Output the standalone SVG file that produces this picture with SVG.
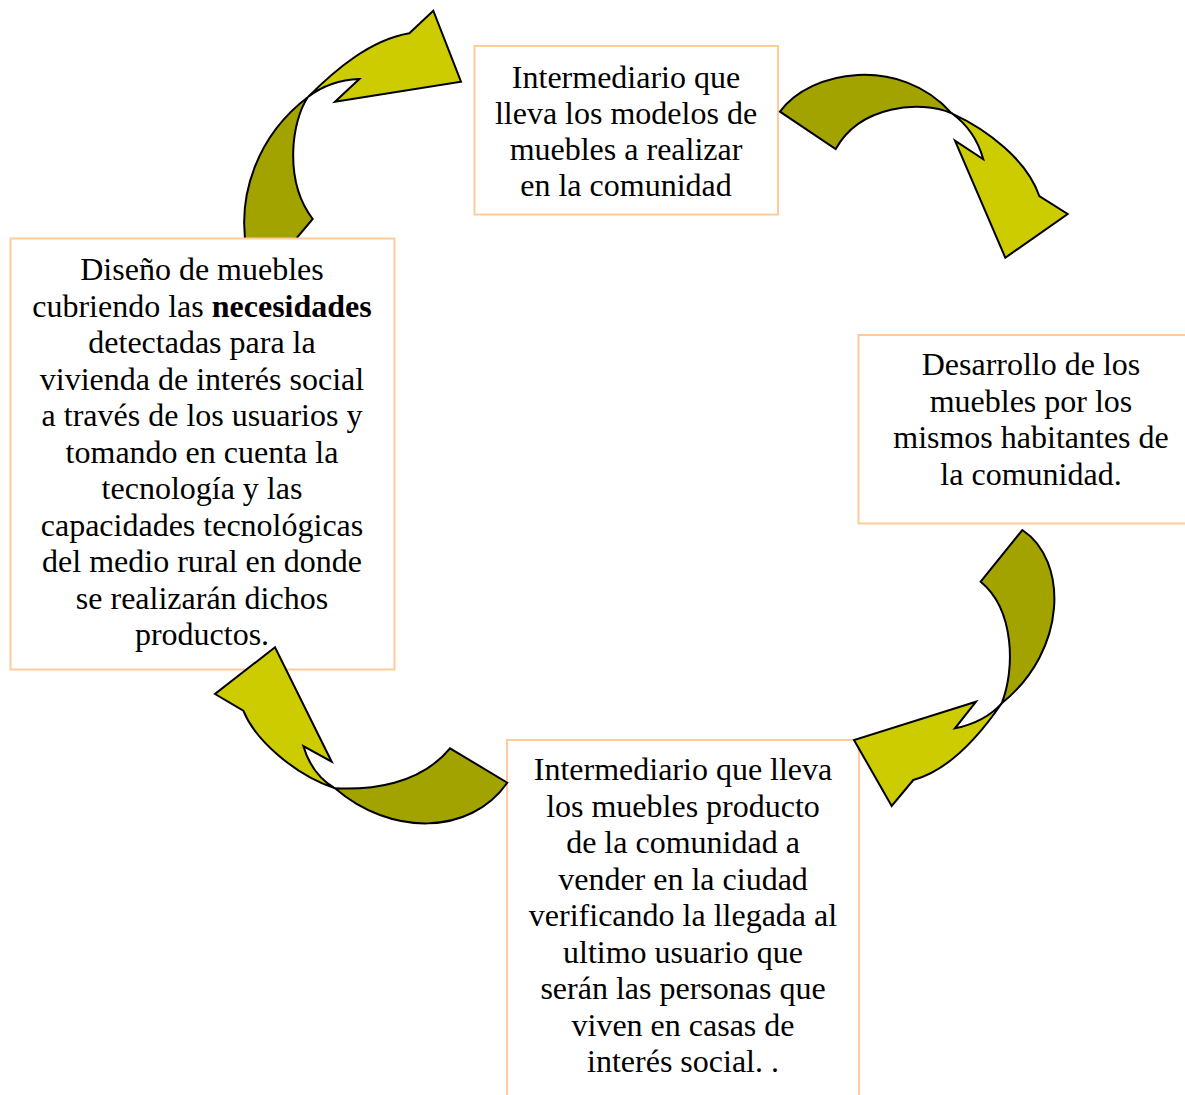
<svg xmlns="http://www.w3.org/2000/svg" width="1185" height="1095" viewBox="0 0 1185 1095">
<style>
.box{fill:#ffffff;stroke:#FFCC99;stroke-width:2}
.dark{fill:#A3A300;stroke:#000;stroke-width:2;stroke-linejoin:miter}
.light{fill:#CCCC00;stroke:#000;stroke-width:2;stroke-linejoin:miter}
.t{font-family:'Liberation Serif',serif;font-size:32px;fill:#000;text-anchor:middle}
</style>
<rect width="1185" height="1095" fill="#ffffff"/>
<g id="connectors">
<g id="arrow-1">
<path class="dark" d="M 247,252 C 236,195 258,135 308,97 C 292,120 283,180 312.7,219 L 285,252 Z"/>
<path class="light" d="M 308,97 C 335,70 370,40 409.3,33.3 L 433.3,10.7 L 461,81.7 L 335,101.7 L 359.3,79 Q 330,80 308,97 Z"/>
</g>
</g>
<g id="node-1" class="t" font-family="Liberation Serif, serif">
<rect class="box" x="474.5" y="46" width="303.5" height="168.5"/>
<text x="626" y="88">Intermediario que</text>
<text x="626" y="124">lleva los modelos de</text>
<text x="626" y="160">muebles a realizar</text>
<text x="626" y="196">en la comunidad</text>
</g>
<g id="node-2" class="t" font-family="Liberation Serif, serif">
<rect class="box" x="10.5" y="238.5" width="384" height="431"/>
<text x="202" y="280">Diseño de muebles</text>
<text x="202" y="316.5">cubriendo las <tspan font-weight="bold">necesidades</tspan></text>
<text x="202" y="353">detectadas para la</text>
<text x="202" y="389.5">vivienda de interés social</text>
<text x="202" y="426">a través de los usuarios y</text>
<text x="202" y="462.5">tomando en cuenta la</text>
<text x="202" y="499">tecnología y las</text>
<text x="202" y="535.5">capacidades tecnológicas</text>
<text x="202" y="572">del medio rural en donde</text>
<text x="202" y="608.5">se realizarán dichos</text>
<text x="202" y="645">productos.</text>
</g>
<g id="node-3" class="t" font-family="Liberation Serif, serif">
<rect class="box" x="858.5" y="335" width="345" height="188.5"/>
<text x="1031" y="375">Desarrollo de los</text>
<text x="1031" y="411.5">muebles por los</text>
<text x="1031" y="448">mismos habitantes de</text>
<text x="1031" y="484.5">la comunidad.</text>
</g>
<g id="node-4" class="t" font-family="Liberation Serif, serif">
<rect class="box" x="507" y="740" width="352" height="400"/>
<text x="683" y="780">Intermediario que lleva</text>
<text x="683" y="816.5">los muebles producto</text>
<text x="683" y="853">de la comunidad a</text>
<text x="683" y="889.5">vender en la ciudad</text>
<text x="683" y="926">verificando la llegada al</text>
<text x="683" y="962.5">ultimo usuario que</text>
<text x="683" y="999">serán las personas que</text>
<text x="683" y="1035.5">viven en casas de</text>
<text x="683" y="1072">interés social. .</text>
</g>
<g id="connectors-2">
<g id="arrow-2">
<path class="dark" d="M 780,111.7 C 810,70 900,55 951.7,113.3 C 920,100 860,105 835.7,149 Z"/>
<path class="light" d="M 951.7,113.3 C 988,130 1027,160 1039.3,196 L 1067.7,214 L 1005.3,257.7 L 955,140.7 L 983.3,159.3 Q 975,130 951.7,113.3 Z"/>
</g>
<g id="arrow-3">
<path class="dark" d="M 1022.3,530 C 1068,560 1068,650 1001.7,703.3 C 1015,670 1015,610 980.7,581.7 Z"/>
<path class="light" d="M 1001.7,703.3 C 980,735 950,770 913.3,780 L 891.7,806 L 854,740 L 976,701.7 L 955,728.3 Q 985,722 1001.7,703.3 Z"/>
</g>
<g id="arrow-4">
<path class="dark" d="M 507.3,782.7 C 470,836 390,836 335,788.3 C 370,790 420,785 450,748.3 Z"/>
<path class="light" d="M 335,788.3 C 295,775 255,740 243.3,710.7 L 215,694 L 275,647.3 L 331.7,761.7 L 303.3,746 Q 312,775 335,788.3 Z"/>
</g>
</g>
</svg>
